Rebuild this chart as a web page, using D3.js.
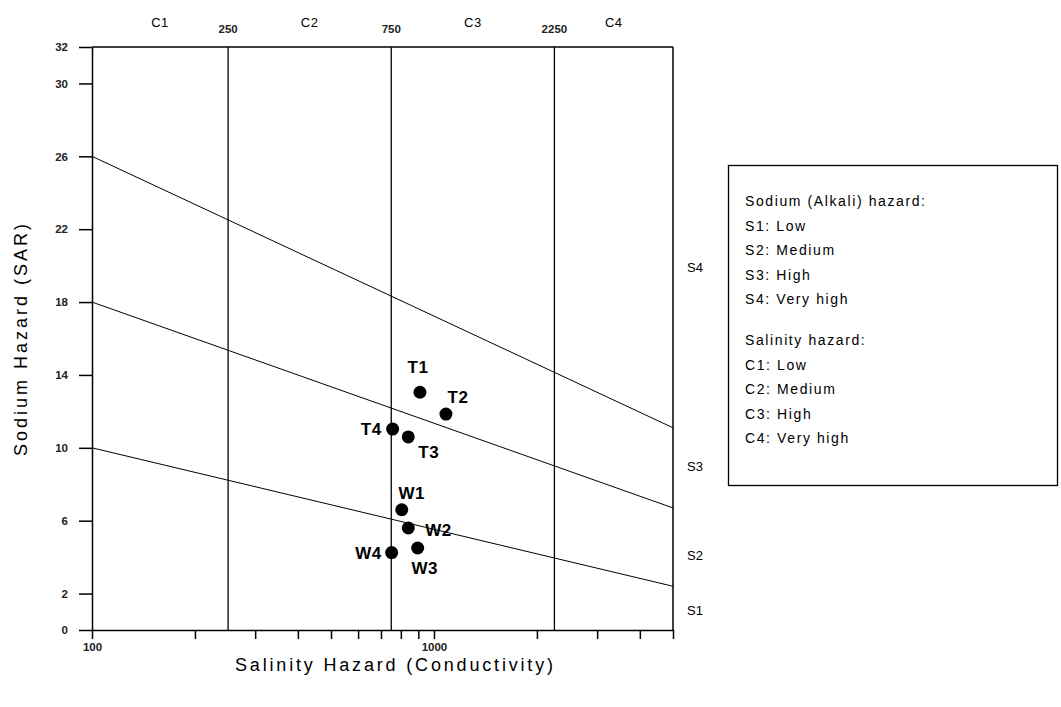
<!DOCTYPE html>
<html>
<head>
<meta charset="utf-8">
<script src="https://cdn.jsdelivr.net/npm/d3@7.9.0/dist/d3.min.js"></script>
<style>
  body { margin: 0; background: #fff; }
  svg { display: block; font-family: 'Liberation Sans', Arial, sans-serif; }
  .narrow { font-family: 'Liberation Sans Narrow', 'Arial Narrow', 'Liberation Sans', sans-serif; }
</style>
</head>
<body>
<svg id="chart" width="1061" height="707"></svg>
<script>
// samples
const sampleNames = ['T1', 'T2', 'T3', 'T4', 'W1', 'W2', 'W3', 'W4'];
const conductivity = [910, 1084, 841, 757, 805, 841, 896, 752];
const sarValues = [13.05, 11.85, 10.6, 11.03, 6.6, 5.6, 4.5, 4.25];

// axes
const ecDomain = [100, 5000];
const sarDomain = [0, 32];
const ecTicks = [100, 200, 300, 400, 500, 600, 700, 800, 900, 1000, 2000, 3000, 4000, 5000];
const ecTickLabels = [100, 1000];
const sarTicks = [0, 2, 6, 10, 14, 18, 22, 26, 30, 32];

// hazard classes
const salinityBounds = [250, 750, 2250];
const salinityClasses = ['C1', 'C2', 'C3', 'C4'];
const sodiumClasses = ['S1', 'S2', 'S3', 'S4'];
const sodiumLabelSar = [1.1, 4.1, 9.0, 19.9];
const sodiumLineStart = [10, 18, 26];    // SAR at EC = 100
const sodiumLineEnd = [2.4, 6.7, 11.1];  // SAR at EC = 5000

const legendSodium = ['Sodium (Alkali) hazard:', 'S1: Low', 'S2: Medium', 'S3: High', 'S4: Very high'];
const legendSalinity = ['Salinity hazard:', 'C1: Low', 'C2: Medium', 'C3: High', 'C4: Very high'];

// where each point label sits relative to its dot
const labelPlace = {
  T1: { dx: -2, dy: -19, anchor: 'middle' },
  T2: { dx: 12, dy: -11, anchor: 'middle' },
  T3: { dx: 10, dy: 21, anchor: 'start' },
  T4: { dx: -11, dy: 6, anchor: 'end' },
  W1: { dx: 10, dy: -11, anchor: 'middle' },
  W2: { dx: 17, dy: 8, anchor: 'start' },
  W3: { dx: 7, dy: 26, anchor: 'middle' },
  W4: { dx: -10, dy: 6, anchor: 'end' },
};

const svg = d3.select('#chart');
const x = d3.scaleLog().domain(ecDomain).range([92, 673]);
const y = d3.scaleLinear().domain(sarDomain).range([630, 47]);

const points = sampleNames.map((name, i) => ({ name, ec: conductivity[i], sar: sarValues[i] }));

// axes
const xAxis = svg.append('g').attr('transform', `translate(0,${y(0)})`)
  .call(d3.axisBottom(x).tickValues(ecTicks).tickSize(9).tickSizeOuter(0).tickPadding(4)
    .tickFormat(d => ecTickLabels.includes(d) ? d : ''));
const yAxis = svg.append('g').attr('transform', `translate(${x(100)},0)`)
  .call(d3.axisLeft(y).tickValues(sarTicks).tickSize(13).tickSizeOuter(0).tickPadding(11));

[xAxis, yAxis].forEach(g => {
  g.selectAll('path, line').attr('stroke', '#000').attr('stroke-width', 1.5);
  g.selectAll('text').attr('class', 'narrow').attr('font-size', 11.5)
    .attr('font-weight', 'bold').attr('fill', '#222');
});

// frame top and right
svg.append('line').attr('x1', x(100)).attr('x2', x(5000)).attr('y1', y(32)).attr('y2', y(32))
  .attr('stroke', '#000').attr('stroke-width', 1.5);
svg.append('line').attr('x1', x(5000)).attr('x2', x(5000)).attr('y1', y(32)).attr('y2', y(0))
  .attr('stroke', '#000').attr('stroke-width', 1.5);

// salinity class boundaries
svg.append('g').selectAll('line').data(salinityBounds).join('line')
  .attr('x1', d => x(d)).attr('x2', d => x(d))
  .attr('y1', y(32)).attr('y2', y(0))
  .attr('stroke', '#000').attr('stroke-width', 1.3);

svg.append('g').selectAll('text').data(salinityBounds).join('text')
  .attr('class', 'narrow')
  .attr('x', d => x(d)).attr('y', 33)
  .attr('text-anchor', 'middle').attr('font-size', 11.5)
  .attr('font-weight', 'bold').attr('fill', '#222')
  .text(d => d);

const classEdges = [ecDomain[0], ...salinityBounds, ecDomain[1]];
svg.append('g').selectAll('text').data(salinityClasses).join('text')
  .attr('x', (d, i) => x(Math.sqrt(classEdges[i] * classEdges[i + 1])))
  .attr('y', 27)
  .attr('text-anchor', 'middle').attr('font-size', 13)
  .attr('letter-spacing', 0.5)
  .text(d => d);

// sodium class boundaries
const line = d3.line().x(d => x(d[0])).y(d => y(d[1]));
svg.append('g').selectAll('path')
  .data(sodiumLineStart.map((s, i) => [[ecDomain[0], s], [ecDomain[1], sodiumLineEnd[i]]]))
  .join('path')
  .attr('d', line)
  .attr('fill', 'none').attr('stroke', '#000').attr('stroke-width', 1);

svg.append('g').selectAll('text').data(sodiumClasses).join('text')
  .attr('x', 695).attr('y', (d, i) => y(sodiumLabelSar[i]) + 5)
  .attr('text-anchor', 'middle').attr('font-size', 13)
  .text(d => d);

// samples
svg.append('g').selectAll('circle').data(points).join('circle')
  .attr('cx', d => x(d.ec)).attr('cy', d => y(d.sar))
  .attr('r', 6.5).attr('fill', '#000');

svg.append('g').selectAll('text').data(points).join('text')
  .attr('x', d => x(d.ec) + labelPlace[d.name].dx)
  .attr('y', d => y(d.sar) + labelPlace[d.name].dy)
  .attr('text-anchor', d => labelPlace[d.name].anchor)
  .attr('font-size', 17).attr('font-weight', 'bold').attr('letter-spacing', 0.5)
  .text(d => d.name);

// axis titles
svg.append('text')
  .attr('x', 394).attr('y', 671)
  .attr('text-anchor', 'middle').attr('font-size', 18)
  .attr('textLength', 318).attr('lengthAdjust', 'spacing')
  .text('Salinity Hazard (Conductivity)');

svg.append('text')
  .attr('transform', 'translate(27,340) rotate(-90)')
  .attr('text-anchor', 'middle').attr('font-size', 18)
  .attr('textLength', 232).attr('lengthAdjust', 'spacing')
  .text('Sodium Hazard (SAR)');

// legend
const legend = svg.append('g');
legend.append('rect')
  .attr('x', 728.5).attr('y', 165.5).attr('width', 329).attr('height', 320)
  .attr('fill', 'none').attr('stroke', '#000').attr('stroke-width', 1.3);

const legendRows = [
  ...legendSodium.map((t, i) => ({ t, top: 206 + i * 24.5 })),
  ...legendSalinity.map((t, i) => ({ t, top: 345 + i * 24.5 })),
];
legend.selectAll('text.row').data(legendRows).join('text')
  .attr('class', 'row')
  .attr('x', 745).attr('y', d => d.top)
  .attr('font-size', 14).attr('letter-spacing', 1.6)
  .text(d => d.t);
</script>
</body>
</html>
